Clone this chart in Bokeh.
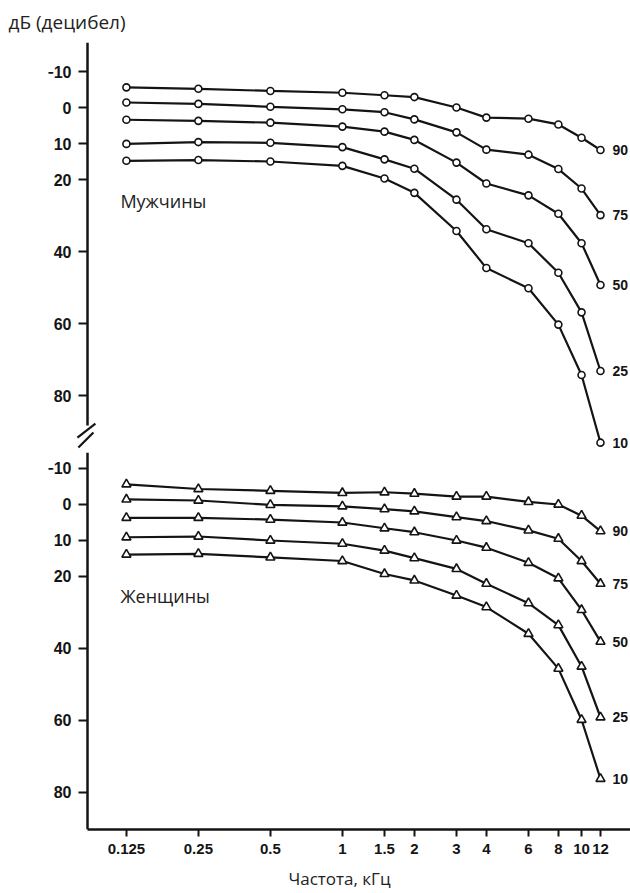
from bokeh.plotting import figure
from bokeh.models import Range1d, FixedTicker, ColumnDataSource
from bokeh.layouts import column
from bokeh.embed import file_html
from bokeh.resources import INLINE
from bokeh.core.properties import value

# ---------------- data ----------------
freqs = [0.125, 0.25, 0.5, 1, 1.5, 2, 3, 4, 6, 8, 10, 12]
freq_labels = ["0.125", "0.25", "0.5", "1", "1.5", "2", "3", "4", "6", "8", "10", "12"]
percentiles = ["90", "75", "50", "25", "10"]
y_ticks = [-10, 0, 10, 20, 40, 60, 80]

men_90 = [-5.6, -5.2, -4.6, -4.1, -3.4, -2.9, 0.0, 2.8, 3.1, 4.7, 8.4, 11.8]
men_75 = [-1.4, -1.0, -0.2, 0.5, 1.3, 3.3, 6.9, 11.7, 13.1, 17.1, 22.5, 29.9]
men_50 = [3.4, 3.7, 4.2, 5.3, 6.7, 9.0, 15.3, 21.1, 24.4, 29.5, 37.7, 49.3]
men_25 = [10.1, 9.6, 9.8, 11.0, 14.4, 17.0, 25.6, 33.8, 37.7, 45.9, 56.9, 73.2]
men_10 = [14.8, 14.6, 15.0, 16.2, 19.7, 23.7, 34.3, 44.6, 50.2, 60.3, 74.3, 93.1]

women_90 = [-5.6, -4.3, -3.8, -3.2, -3.4, -3.0, -2.2, -2.2, -0.7, 0.0, 3.1, 7.4]
women_75 = [-1.4, -1.1, 0.1, 0.5, 1.3, 1.9, 3.5, 4.6, 7.2, 9.5, 15.7, 22.0]
women_50 = [3.7, 3.7, 4.2, 5.0, 6.6, 7.7, 10.0, 12.0, 16.2, 20.5, 29.3, 38.1]
women_25 = [9.1, 8.9, 10.0, 10.9, 12.8, 14.9, 17.9, 22.0, 27.4, 33.5, 45.0, 59.1]
women_10 = [13.9, 13.7, 14.7, 15.7, 19.3, 21.1, 25.3, 28.5, 35.9, 45.6, 59.8, 76.2]

men_series = [men_90, men_75, men_50, men_25, men_10]
women_series = [women_90, women_75, women_50, women_25, women_10]

# ---------------- style ----------------
INK = "#141414"
TICK_FONT = "Liberation Sans"
TEXT_FONT = "Open Sans"
W = 630
X0, X1 = 0.05905, 16.02          # x range of the frame (log scale)
AX = 0.0859                      # where the y axes stand
x_range = Range1d(X0, X1)


def octave_shift(x, px):
    # shift a frequency by a number of pixels (72 px per octave)
    return x * 2 ** (px / 72.0)


def make_panel(series, marker, msize, y_start, y_end, bounds, height,
               b_top, b_bottom, with_x, name, name_y, title=None):
    kw = dict(width=W, height=height, x_axis_type="log", x_range=x_range,
              y_range=Range1d(y_start, y_end), toolbar_location=None,
              output_backend="svg", min_border_left=48, min_border_right=0,
              min_border_top=b_top, min_border_bottom=b_bottom,
              x_axis_location="below" if with_x else None)
    if title:
        kw["title"] = title
    p = figure(**kw)
    p.outline_line_color = None
    p.background_fill_color = "white"
    p.border_fill_color = "white"
    p.grid.grid_line_color = None

    ya = p.yaxis[0]
    ya.fixed_location = AX
    ya.ticker = FixedTicker(ticks=y_ticks, minor_ticks=[])
    ya.bounds = bounds
    ya.axis_line_width = 2.5
    ya.axis_line_color = INK
    ya.major_tick_line_width = 2
    ya.major_tick_line_color = INK
    ya.major_tick_out = 9
    ya.major_tick_in = 0
    ya.major_label_standoff = 7
    ya.major_label_text_font = TICK_FONT
    ya.major_label_text_font_size = "16px"
    ya.major_label_text_font_style = "bold"
    ya.major_label_text_color = INK

    if with_x:
        xa = p.xaxis[0]
        xa.bounds = (AX, X1)
        xa.ticker = FixedTicker(ticks=freqs, minor_ticks=[])
        xa.major_label_overrides = {float(f): l for f, l in zip(freqs, freq_labels)}
        xa.axis_line_width = 2.5
        xa.axis_line_color = INK
        xa.major_tick_line_width = 2
        xa.major_tick_line_color = INK
        xa.major_tick_out = 7
        xa.major_tick_in = 0
        xa.major_label_standoff = 7
        xa.major_label_text_font = TICK_FONT
        xa.major_label_text_font_size = "15px"
        xa.major_label_text_font_style = "bold"
        xa.major_label_text_color = INK
        xa.axis_label = "Частота, кГц"
        xa.axis_label_text_font = TEXT_FONT
        xa.axis_label_text_font_size = "17px"
        xa.axis_label_text_font_style = "normal"
        xa.axis_label_text_color = "#222222"
        xa.axis_label_standoff = 10

    for vals in series:
        src = ColumnDataSource(dict(x=freqs, y=vals))
        p.line("x", "y", source=src, line_color=INK, line_width=2.2)
        p.scatter("x", "y", source=src, marker=marker, size=msize,
                  fill_color="white", line_color=INK, line_width=1.6)

    lab = ColumnDataSource(dict(x=[octave_shift(freqs[-1], 12)] * len(series),
                                y=[v[-1] for v in series], t=percentiles))
    p.text("x", "y", text="t", source=lab, text_font=value(TICK_FONT),
           text_font_size="14px", text_font_style="bold", text_color=INK,
           text_baseline="middle", text_align="left")

    p.text(x=[octave_shift(freqs[0], -6)], y=[name_y], text=[name],
           text_font=value(TEXT_FONT), text_font_size="18px",
           text_color="#222222", text_baseline="middle", text_align="left")
    return p


# men: frame page y 42..452 ; women: 452..829
p1 = make_panel(men_series, "circle", 7, 95.83, -18.06, (-18.06, 88.33), 452,
                42, 0, False, "Мужчины", 26.0, title="дБ (децибел)")
p1.title.align = "left"
p1.title.vertical_align = "top"
p1.title.offset = -40
p1.title.standoff = 11
p1.title.text_font = TEXT_FONT
p1.title.text_font_size = "19px"
p1.title.text_font_style = "normal"
p1.title.text_color = "#222222"

# axis-break marks "//" crossing the y axis between the two panels
brk = ColumnDataSource(dict(
    x0=[octave_shift(AX, -10), octave_shift(AX, -9)],
    x1=[octave_shift(AX, 8), octave_shift(AX, 6)],
    y0=[91.67, 94.44], y1=[87.78, 90.28]))
p1.segment("x0", "y0", "x1", "y1", source=brk, line_color=INK, line_width=2.2)

p2 = make_panel(women_series, "triangle", 9, 90.28, -14.44, (-14.44, 90.28), 441,
                0, 64, True, "Женщины", 25.3)

layout = column(p1, p2, spacing=0)
open("out.html", "w").write(file_html(layout, INLINE))
